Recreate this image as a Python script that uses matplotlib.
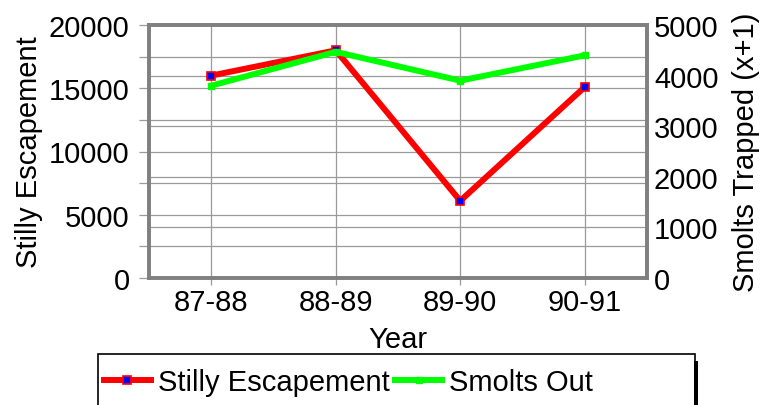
import matplotlib.pyplot as plt
from matplotlib.patches import Rectangle
from matplotlib.lines import Line2D
from matplotlib.ticker import MultipleLocator

plt.rcParams['font.family'] = ['Liberation Sans', 'DejaVu Sans']

# Data
years = ['87-88', '88-89', '89-90', '90-91']
stilly_escapement = [16000, 18000, 6100, 15100]   # left axis
smolts_out = [3800, 4470, 3900, 4400]             # right axis

frame_gray = '#808080'
grid_gray = '#9a9a9a'
fs = 21

fig = plt.figure(figsize=(7.74, 4.06), dpi=100)
ax = fig.add_axes([149/774, 1 - 279/406, 498/774, 253/406])
ax2 = ax.twinx()

x = list(range(len(years)))

# Left axis
ax.set_xlim(-0.5, 3.5)
ax.set_ylim(0, 20000)
ax.yaxis.set_major_locator(MultipleLocator(5000))
ax.yaxis.set_minor_locator(MultipleLocator(2500))
ax.set_xticks(x)
ax.set_xticklabels(years)
ax.grid(True, which='both', axis='y', color=grid_gray, lw=0.9)
ax.grid(True, which='major', axis='x', color=grid_gray, lw=0.9)
ax.set_axisbelow(True)
ax.tick_params(axis='y', which='both', length=7, width=0.9, color=grid_gray, pad=7, labelsize=fs)
ax.tick_params(axis='x', length=5, width=0.9, color=grid_gray, pad=2, labelsize=fs)
ax.set_xlabel('Year', fontsize=fs, labelpad=7)
ax.set_ylabel('Stilly Escapement', fontsize=fs, labelpad=4)

# Right axis
ax2.set_ylim(0, 5000)
ax2.yaxis.set_major_locator(MultipleLocator(1000))
ax2.grid(True, axis='y', color=grid_gray, lw=0.9)
ax2.tick_params(axis='y', length=0, pad=5, labelsize=fs)
ax2.set_ylabel('Smolts Trapped (x+1)', fontsize=fs, labelpad=10)

for a in (ax, ax2):
    for s in a.spines.values():
        s.set_color(frame_gray)
        s.set_linewidth(2.6)

# Series (both drawn in ax2 so they sit above every gridline; green on top)
ax2.plot(x, stilly_escapement, transform=ax.transData,
         color='#ff0000', lw=4.3, marker='s', ms=6, mfc='#0000ff',
         mec='#ff0000', mew=1.2, zorder=3, clip_on=False)
ax2.plot(x, smolts_out, color='#00ff00', lw=4.3, marker='s', ms=5,
         mfc='#00ff00', mec='#00ff00', zorder=4, clip_on=False)

# Legend
handles = [
    Line2D([], [], color='#ff0000', lw=4.3, marker='s', ms=6, mfc='#0000ff', mec='#ff0000', mew=1.2),
    Line2D([], [], color='#00ff00', lw=4.3, marker='s', ms=5, mfc='#00ff00', mec='#00ff00'),
]
fig.legend(handles, ['Stilly Escapement', 'Smolts Out'], loc='center left',
           bbox_to_anchor=(98/774, 1 - 383/406), ncol=2, frameon=False,
           fontsize=fs, handlelength=1.6, handletextpad=0.25, columnspacing=0.2,
           borderaxespad=0, borderpad=0.2)
fig.patches.append(Rectangle((98/774, -0.1), 597/774, 0.1 + (406 - 355)/406,
                             transform=fig.transFigure, fill=False,
                             edgecolor='black', lw=1.2))
fig.patches.append(Rectangle((694/774, -0.1), 4/774, 0.1 + (406 - 362)/406,
                             transform=fig.transFigure, color='black', lw=0))

fig.savefig('out.png', dpi=100)
